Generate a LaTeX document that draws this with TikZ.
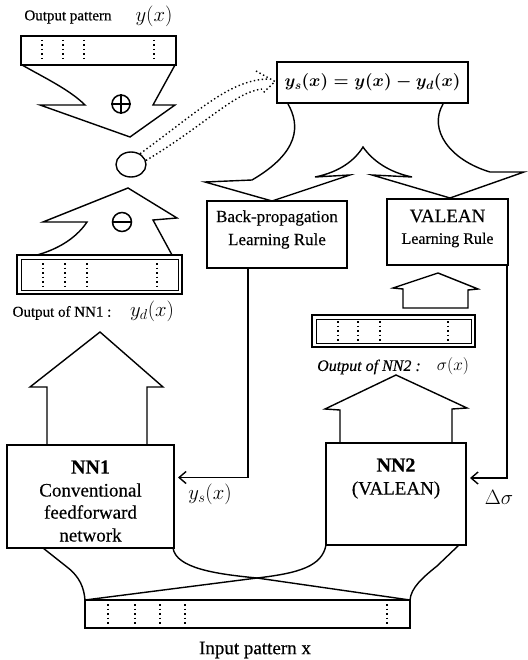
\documentclass[tikz,border=0pt]{standalone}
\usepackage{fontspec}
\setmainfont{Liberation Serif}[FakeBold=0.4]
\usetikzlibrary{arrows.meta,shapes.geometric}
\begin{document}
\begin{tikzpicture}[x=1pt,y=-1pt,
  shapeline/.style={line width=1.4pt, line join=miter},
  box/.style={draw, line width=1.7pt, inner sep=0pt, outer sep=0pt},
  dblbox/.style={draw, line width=2.2pt, inner sep=0pt, outer sep=0pt},
  divider/.style={line width=1.4pt, dash pattern=on 1.5pt off 3pt},
  dotarrow/.style={line width=1.4pt, dash pattern=on 1.4pt off 2.6pt},
  feed/.style={line width=1.7pt, shorten >=4pt,
    -{Straight Barb[length=7pt,width=12pt,line width=1.4pt]}},
  lbl/.style={inner sep=0pt, outer sep=0pt},
  opsign/.style={circle, draw, line width=1.5pt, inner sep=0pt, minimum size=18pt},
]
\useasboundingbox (0,0) rectangle (527,660);

% ---------- boxes ----------
\node[box, line width=2pt, minimum width=155pt, minimum height=29pt] (outp) at (98.5,50.5) {};
\foreach \x in {42,63,84,154} {\draw[divider] (\x,40) -- (\x,61);}

\node[box, minimum width=191pt, minimum height=41pt, font=\fontsize{18}{22}\selectfont\boldmath] (form) at (372.5,82.5) {$y_s(x)=y(x)-y_d(x)$};

\node[box, minimum width=140pt, minimum height=67pt] (bp) at (277,234.5) {};
\node[lbl, font=\fontsize{17}{20}\selectfont] (bpa) at (277,218) {Back-propagation};
\node[lbl, font=\fontsize{17}{20}\selectfont] (bpb) at (277,241) {Learning Rule};

\node[box, minimum width=121pt, minimum height=66pt] (vl) at (447.5,232) {};
\node[lbl, font=\fontsize{19}{22}\selectfont] (vla) at (447.5,216) {VALEAN};
\node[lbl, font=\fontsize{16}{20}\selectfont] (vlb) at (447.5,240) {Learning Rule};

\node[dblbox, minimum width=165pt, minimum height=39pt] (o1) at (99.5,274.5) {};
\draw[line width=0.9pt] ([shift={(4pt,-4pt)}]o1.north west) rectangle ([shift={(-4pt,4pt)}]o1.south east);
\foreach \x in {43,65,87,157} {\draw[divider] (\x,263) -- (\x,287);}

\node[dblbox, minimum width=163pt, minimum height=32pt] (o2) at (393.5,331) {};
\draw[line width=0.9pt] ([shift={(4pt,-4pt)}]o2.north west) rectangle ([shift={(-4pt,4pt)}]o2.south east);
\foreach \x in {338,358,380,448} {\draw[divider] (\x,321) -- (\x,342);}

\node[box, minimum width=167pt, minimum height=103pt] (nn1) at (90.5,496.5) {};
\node[lbl, font=\fontsize{20}{24}\selectfont\bfseries] (nn1a) at (90.5,467) {NN1};
\node[lbl, font=\fontsize{19}{22}\selectfont] (nn1b) at (90.5,490) {Conventional};
\node[lbl, font=\fontsize{19}{22}\selectfont] (nn1c) at (90.5,512) {feedforward};
\node[lbl, font=\fontsize{19}{22}\selectfont] (nn1d) at (90.5,535) {network};

\node[box, minimum width=140pt, minimum height=102pt] (nn2) at (396,494) {};
\node[lbl, font=\fontsize{20}{24}\selectfont\bfseries] (nn2a) at (396,465) {NN2};
\node[lbl, font=\fontsize{19}{22}\selectfont] (nn2b) at (396,490) {(VALEAN)};

\node[box, line width=1.4pt, minimum width=325pt, minimum height=28pt] (inp) at (247.5,614) {};
\foreach \x in {108,135,160,185,387} {\draw[divider] (\x,604) -- (\x,624);}

% ---------- labels ----------
\node[lbl, font=\fontsize{15}{18}\selectfont] (optxt) at (68,17) {Output pattern};
\node[lbl, font=\fontsize{20}{24}\selectfont] (opy) at (154,16) {$y(x)$};
\node[lbl, font=\fontsize{15}{18}\selectfont] (o1txt) at (62,313) {Output of NN1 :};
\node[lbl, font=\fontsize{20}{24}\selectfont] (o1y) at (152,311) {$y_d(x)$};
\node[lbl, font=\fontsize{16}{19}\selectfont\itshape] (o2txt) at (369,367) {Output of NN2 :};
\node[lbl, font=\fontsize{17}{20}\selectfont] (o2s) at (453,366) {$\sigma(x)$};
\node[lbl, font=\fontsize{20}{24}\selectfont] (ysl) at (210,494) {$y_s(x)$};
\node[lbl, font=\fontsize{20}{24}\selectfont] (dsl) at (499,497) {$\Delta\sigma$};
\node[lbl, font=\fontsize{19}{22}\selectfont] (inptxt) at (255,650) {Input pattern x};

% ---------- adder and subtractor ----------
\draw[shapeline] (22,65) .. controls (45,78) and (70,90) .. (85,105) -- (40,105) -- (130,137) -- (175,105) -- (153,105) -- (175,65);
\node[opsign] (plus) at (121,104) {};
\draw[line width=1.5pt] (plus.north) -- (plus.south) (plus.west) -- (plus.east);

\node[draw, ellipse, line width=1.4pt, minimum width=30pt, minimum height=25pt, inner sep=0pt] (junc) at (131,164.5) {};

\draw[shapeline] (37,255) .. controls (55,250) and (75,240) .. (87,222) -- (43,222) -- (128,188) -- (177,218) -- (153,220) -- (172,255);
\node[opsign, minimum size=19pt] (minus) at (122,222) {};
\draw[line width=1.5pt] (minus.west) -- (minus.east);

% ---------- block arrows ----------
\draw[shapeline] (47,444) -- (47,387) -- (30,387) -- (100,332) -- (163,387) -- (147,387) -- (147,444);
\draw[shapeline] (340,442) -- (340,410) -- (325,409) -- (396,375) -- (467,408) -- (452,409) -- (452,442);
\draw[shapeline] (403,308) -- (403,289) -- (393,288) -- (438,273) -- (478,289) -- (468,290) -- (468,308) -- cycle;

% split arrow under the error formula
\draw[shapeline] (288,104) .. controls (300,125) and (300,152) .. (252,180) -- (205,182) -- (272,201) -- (350,175) -- (315,177) .. controls (340,172) and (355,160) .. (363,147) .. controls (372,160) and (388,172) .. (412,177) -- (372,175) -- (450,198) -- (524,172) -- (490,172) .. controls (450,160) and (428,130) .. (443,104);

% input fan-out
\draw[shapeline] (43,548) -- (67,567) .. controls (80,577) and (84,588) .. (85,600);
\draw[shapeline] (173,548) .. controls (176,568) and (215,574) .. (257,578) -- (410,600);
\draw[shapeline] (326,545) .. controls (322,566) and (300,573) .. (257,578) -- (85,600);
\draw[shapeline] (459,545) -- (437,566) .. controls (422,578) and (411,588) .. (410,600);

% ---------- dotted link from the junction to the error formula ----------
\draw[dotarrow] (junc.50) .. controls (200,110) and (230,80) .. (268,79);
\draw[dotarrow] (junc.15) .. controls (205,125) and (235,92) .. (262,89);
\draw[dotarrow] (256,71) -- ([shift={(-2pt,1pt)}]form.west) -- (262,94);

% ---------- feedback paths ----------
\draw[feed] ([xshift=-29pt]bp.south) |- ([yshift=19pt]nn1.east);
\draw[feed] ([xshift=-1pt]vl.south east) |- ([yshift=16pt]nn2.east);
\end{tikzpicture}
\end{document}
